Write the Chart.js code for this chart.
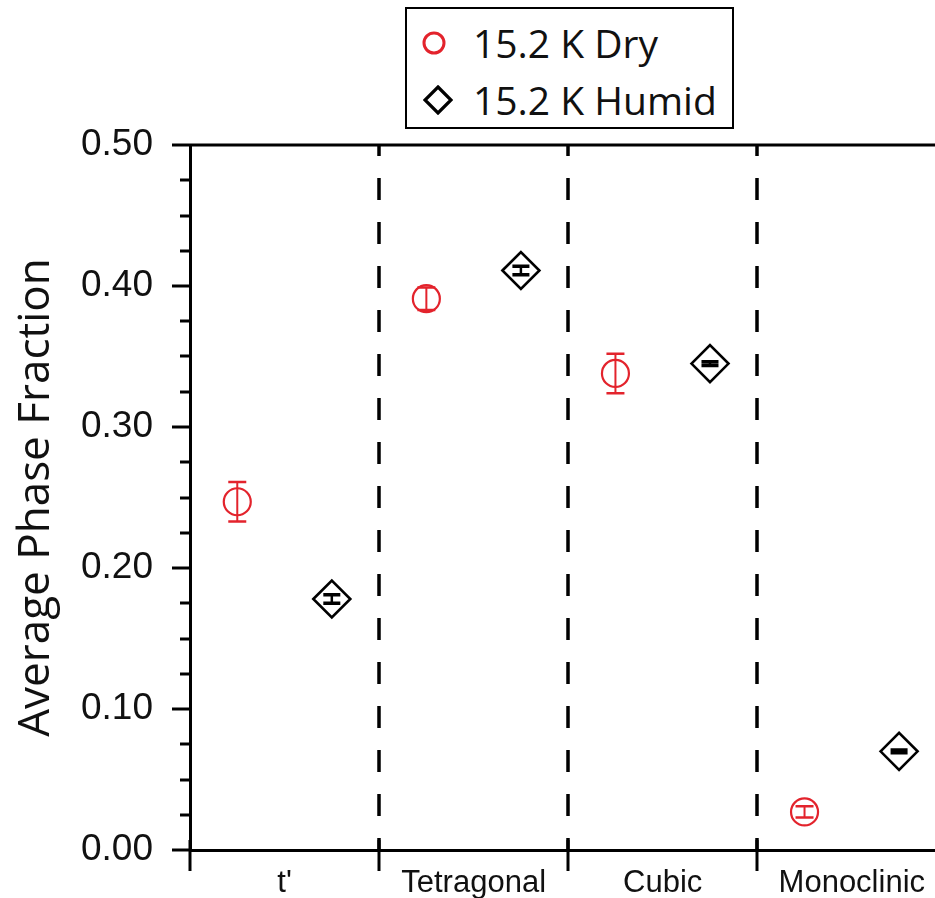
<!DOCTYPE html>
<html>
<head>
<meta charset="utf-8">
<script src="https://cdn.jsdelivr.net/npm/chart.js@4.4.1/dist/chart.umd.min.js"></script>
<style>
  html, body { margin: 0; padding: 0; background: #fff; overflow: hidden; }
  #wrap { position: relative; width: 935px; height: 898px; }
  #legend {
    position: absolute; left: 405px; top: 7px; width: 325px; height: 118px;
    border: 2px solid #000; background: #fff;
    font-family: "Open Sans", "Liberation Sans", sans-serif; font-size: 39px; color: #111;
  }
  .row { position: absolute; left: 0; height: 50px; line-height: 50px; }
  .row span { position: absolute; left: 66px; white-space: nowrap; }
  .mk { position: absolute; }
</style>
</head>
<body>
<div id="wrap">
  <canvas id="chart" width="935" height="898"></canvas>
  <div id="legend">
    <div class="row" style="top:9px">
      <svg class="mk" style="left:14px;top:12px" width="26" height="26"><circle cx="13" cy="13" r="10" fill="none" stroke="#e3232c" stroke-width="3"/></svg>
      <span>15.2 K Dry</span>
    </div>
    <div class="row" style="top:66px">
      <svg class="mk" style="left:16px;top:10px" width="30" height="30"><path d="M15 2 L28 15 L15 28 L2 15 Z" fill="none" stroke="#000" stroke-width="3.2"/></svg>
      <span>15.2 K Humid</span>
    </div>
  </div>
</div>
<script>
// categories and values
const categories = ["t'", "Tetragonal", "Cubic", "Monoclinic"];
const dryValues = [0.247, 0.391, 0.338, 0.027];
const dryErrors = [0.014, 0.008, 0.014, 0.004];
const humidValues = [0.178, 0.411, 0.345, 0.070];
const humidErrors = [0.003, 0.003, 0.0013, 0.001];
const yTickLabels = ["0.00", "0.10", "0.20", "0.30", "0.40", "0.50"];

const red = "#e3232c";

// points sit at 1/4 and 3/4 of each category slot
const dryPoints = dryValues.map((v, i) => ({ x: i + 0.25, y: v }));
const humidPoints = humidValues.map((v, i) => ({ x: i + 0.75, y: v }));

const decorPlugin = {
  id: "decor",
  beforeDatasetsDraw(chart) {
    const ctx = chart.ctx;
    const area = chart.chartArea;
    const xs = chart.scales.x;
    const ys = chart.scales.y;
    ctx.save();
    ctx.strokeStyle = "#000";

    // dashed separators between categories
    ctx.lineWidth = 3.5;
    ctx.setLineDash([22, 22]);
    ctx.lineDashOffset = 11;
    for (let i = 1; i < categories.length; i++) {
      const px = Math.round(xs.getPixelForValue(i));
      ctx.beginPath();
      ctx.moveTo(px, area.top);
      ctx.lineTo(px, area.bottom);
      ctx.stroke();
    }
    ctx.setLineDash([]);

    // top frame line
    ctx.lineWidth = 3;
    ctx.beginPath();
    ctx.moveTo(area.left, area.top);
    ctx.lineTo(area.right, area.top);
    ctx.stroke();

    // y ticks: major every 0.1, minor every 0.025
    for (let k = 0; k <= 20; k++) {
      const v = k * 0.025;
      const py = Math.round(ys.getPixelForValue(v));
      const len = (k % 4 === 0) ? 18 : 10;
      ctx.beginPath();
      ctx.moveTo(area.left, py);
      ctx.lineTo(area.left - len, py);
      ctx.stroke();
    }

    // x ticks at category boundaries, crossing the axis
    for (let i = 0; i < categories.length; i++) {
      const px = Math.round(xs.getPixelForValue(i));
      ctx.beginPath();
      ctx.moveTo(px, area.bottom - 10);
      ctx.lineTo(px, area.bottom + 21);
      ctx.stroke();
    }
    ctx.restore();
  },
  afterDatasetsDraw(chart) {
    const ctx = chart.ctx;
    const xs = chart.scales.x;
    const ys = chart.scales.y;
    const sets = [
      { pts: dryPoints, err: dryErrors, color: red, w: 2, cap: 9, capW: 2.5 },
      { pts: humidPoints, err: humidErrors, color: "#000", w: 2.5, cap: 8.5, capW: 3.5 }
    ];
    ctx.save();
    sets.forEach(s => {
      ctx.strokeStyle = s.color;
      s.pts.forEach((p, i) => {
        const px = xs.getPixelForValue(p.x);
        const top = ys.getPixelForValue(p.y + s.err[i]);
        const bot = ys.getPixelForValue(p.y - s.err[i]);
        ctx.lineWidth = s.w;
        ctx.beginPath();
        ctx.moveTo(px, top);
        ctx.lineTo(px, bot);
        ctx.stroke();
        ctx.lineWidth = s.capW;
        ctx.beginPath();
        ctx.moveTo(px - s.cap, top);
        ctx.lineTo(px + s.cap, top);
        ctx.moveTo(px - s.cap, bot);
        ctx.lineTo(px + s.cap, bot);
        ctx.stroke();
      });
    });
    ctx.restore();
  }
};

new Chart(document.getElementById("chart").getContext("2d"), {
  type: "scatter",
  data: {
    datasets: [
      {
        label: "15.2 K Dry",
        data: dryPoints,
        pointStyle: "circle",
        pointRadius: 13.5,
        pointHoverRadius: 13.5,
        borderColor: red,
        backgroundColor: "rgba(0,0,0,0)",
        borderWidth: 2.2
      },
      {
        label: "15.2 K Humid",
        data: humidPoints,
        pointStyle: "rectRot",
        pointRadius: 18.5,
        pointHoverRadius: 18.5,
        borderColor: "#000",
        backgroundColor: "rgba(0,0,0,0)",
        borderWidth: 2.6
      }
    ]
  },
  options: {
    responsive: false,
    animation: false,
    events: [],
    layout: { autoPadding: false, padding: { top: 145, left: 0, right: 0, bottom: 0 } },
    plugins: { legend: { display: false }, tooltip: { enabled: false } },
    scales: {
      x: {
        type: "linear",
        min: 0,
        max: 3.94,
        afterFit: s => { s.height = 48; s.paddingLeft = 0; s.paddingRight = 0; },
        afterBuildTicks: s => { s.ticks = categories.map((c, i) => ({ value: i + 0.5 })); },
        grid: { display: false },
        border: { display: true, color: "#000", width: 3 },
        ticks: {
          padding: 7,
          color: "#111",
          maxRotation: 0,
          autoSkip: false,
          font: { family: "Liberation Sans, Arial, sans-serif", size: 31 },
          callback: v => categories[Math.round(v - 0.5)]
        }
      },
      y: {
        min: 0,
        max: 0.5,
        afterFit: s => { s.width = 190; s.paddingTop = 0; s.paddingBottom = 0; },
        afterBuildTicks: s => { s.ticks = yTickLabels.map(t => ({ value: parseFloat(t) })); },
        grid: { display: false },
        border: { display: true, color: "#000", width: 3 },
        ticks: {
          padding: 29,
          color: "#111",
          font: { family: "Liberation Sans, Arial, sans-serif", size: 37 },
          callback: v => yTickLabels.find(t => Math.abs(parseFloat(t) - v) < 1e-6)
        },
        title: {
          display: true,
          text: "Average Phase Fraction",
          color: "#111",
          padding: { top: 10, bottom: 10 },
          font: { family: "Open Sans, Liberation Sans, sans-serif", size: 44 }
        }
      }
    }
  },
  plugins: [decorPlugin]
});
</script>
</body>
</html>
